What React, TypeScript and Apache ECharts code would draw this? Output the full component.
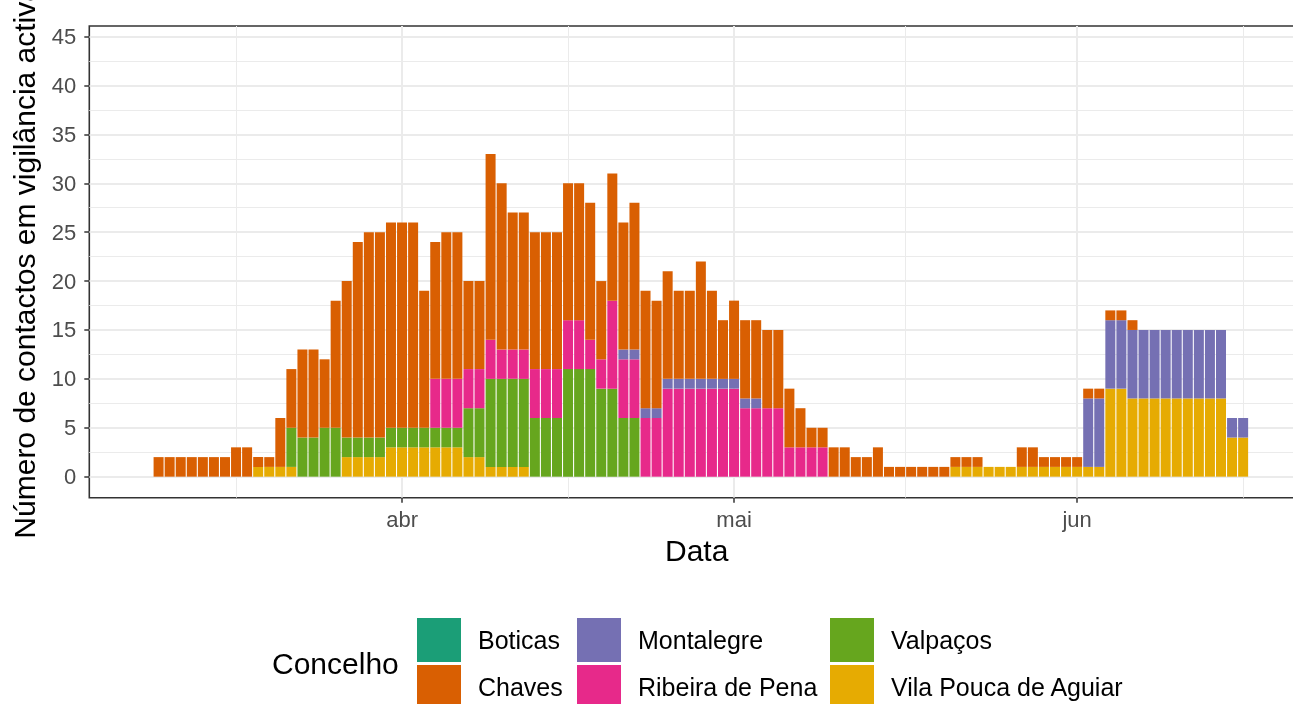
import React, { useEffect, useRef } from "react";
import * as echarts from "echarts";

// Days counted from 2020-03-09 (day 0) to 2020-06-16 (day 99)
const dayCount = 100;
const days = Array.from({ length: dayCount }, (_, i) => i);

const monthTicks = [23, 53, 84];
const monthLabels = ["abr", "mai", "jun"];
const monthMinorTicks = [8, 38, 68.5, 99];

const yMajorTicks = [0, 5, 10, 15, 20, 25, 30, 35, 40, 45];
const yMinorTicks = [2.5, 7.5, 12.5, 17.5, 22.5, 27.5, 32.5, 37.5, 42.5];

const vilaPouca = [
  0, 0, 0, 0, 0, 0, 0, 0, 0, 0,
  1, 1, 1, 1, 0, 0, 0, 0, 2, 2,
  2, 2, 3, 3, 3, 3, 3, 3, 3, 2,
  2, 1, 1, 1, 1, 0, 0, 0, 0, 0,
  0, 0, 0, 0, 0, 0, 0, 0, 0, 0,
  0, 0, 0, 0, 0, 0, 0, 0, 0, 0,
  0, 0, 0, 0, 0, 0, 0, 0, 0, 0,
  0, 0, 0, 1, 1, 1, 1, 1, 1, 1,
  1, 1, 1, 1, 1, 1, 1, 9, 9, 8,
  8, 8, 8, 8, 8, 8, 8, 8, 4, 4,
];
const valpacos = [
  0, 0, 0, 0, 0, 0, 0, 0, 0, 0,
  0, 0, 0, 4, 4, 4, 5, 5, 2, 2,
  2, 2, 2, 2, 2, 2, 2, 2, 2, 5,
  5, 9, 9, 9, 9, 6, 6, 6, 11, 11,
  11, 9, 9, 6, 6, 0, 0, 0, 0, 0,
  0, 0, 0, 0, 0, 0, 0, 0, 0, 0,
  0, 0, 0, 0, 0, 0, 0, 0, 0, 0,
  0, 0, 0, 0, 0, 0, 0, 0, 0, 0,
  0, 0, 0, 0, 0, 0, 0, 0, 0, 0,
  0, 0, 0, 0, 0, 0, 0, 0, 0, 0,
];
const ribeira = [
  0, 0, 0, 0, 0, 0, 0, 0, 0, 0,
  0, 0, 0, 0, 0, 0, 0, 0, 0, 0,
  0, 0, 0, 0, 0, 0, 5, 5, 5, 4,
  4, 4, 3, 3, 3, 5, 5, 5, 5, 5,
  3, 3, 9, 6, 6, 6, 6, 9, 9, 9,
  9, 9, 9, 9, 7, 7, 7, 7, 3, 3,
  3, 3, 0, 0, 0, 0, 0, 0, 0, 0,
  0, 0, 0, 0, 0, 0, 0, 0, 0, 0,
  0, 0, 0, 0, 0, 0, 0, 0, 0, 0,
  0, 0, 0, 0, 0, 0, 0, 0, 0, 0,
];
const montalegre = [
  0, 0, 0, 0, 0, 0, 0, 0, 0, 0,
  0, 0, 0, 0, 0, 0, 0, 0, 0, 0,
  0, 0, 0, 0, 0, 0, 0, 0, 0, 0,
  0, 0, 0, 0, 0, 0, 0, 0, 0, 0,
  0, 0, 0, 1, 1, 1, 1, 1, 1, 1,
  1, 1, 1, 1, 1, 1, 0, 0, 0, 0,
  0, 0, 0, 0, 0, 0, 0, 0, 0, 0,
  0, 0, 0, 0, 0, 0, 0, 0, 0, 0,
  0, 0, 0, 0, 0, 7, 7, 7, 7, 7,
  7, 7, 7, 7, 7, 7, 7, 7, 2, 2,
];
const chaves = [
  0, 2, 2, 2, 2, 2, 2, 2, 3, 3,
  1, 1, 5, 6, 9, 9, 7, 13, 16, 20,
  21, 21, 21, 21, 21, 14, 14, 15, 15, 9,
  9, 19, 17, 14, 14, 14, 14, 14, 14, 14,
  14, 8, 13, 13, 15, 12, 11, 11, 9, 9,
  12, 9, 6, 8, 8, 8, 8, 8, 6, 4,
  2, 2, 3, 3, 2, 2, 3, 1, 1, 1,
  1, 1, 1, 1, 1, 1, 0, 0, 0, 2,
  2, 1, 1, 1, 1, 1, 1, 1, 1, 1,
  0, 0, 0, 0, 0, 0, 0, 0, 0, 0,
];
const boticas = new Array(dayCount).fill(0);

// stacking order: bottom first
const seriesNames = [
  "Vila Pouca de Aguiar",
  "Valpaços",
  "Ribeira de Pena",
  "Montalegre",
  "Chaves",
  "Boticas",
];
const seriesValues = [vilaPouca, valpacos, ribeira, montalegre, chaves, boticas];
const seriesColors = ["#E6AB02", "#66A61E", "#E7298A", "#7570B3", "#D95F02", "#1B9E77"];

const legendColumns = [
  ["Boticas", "Chaves"],
  ["Montalegre", "Ribeira de Pena"],
  ["Valpaços", "Vila Pouca de Aguiar"],
];

const FONT = "'Liberation Sans', Arial, Helvetica, sans-serif";
const CHART_H = 740;

export default function App() {
  const ref = useRef<HTMLDivElement>(null);
  useEffect(() => {
    document.body.style.overflow = "hidden";
    const chart = echarts.init(ref.current!, null, { renderer: "svg" });
    const legendLefts = [417, 577, 830];
    chart.setOption({
      animation: false,
      textStyle: { fontFamily: FONT },
      grid: {
        left: 89.3,
        top: 26,
        right: 16,
        bottom: CHART_H - 497.7,
        containLabel: false,
        outerBoundsMode: "none",
        show: true,
        backgroundColor: "#ffffff",
        borderColor: "#333333",
        borderWidth: 1.6,
      },
      xAxis: [
        {
          type: "value",
          min: -5.26,
          max: 104.5,
          axisLine: { show: false, onZero: false },
          axisTick: {
            show: true,
            customValues: monthTicks,
            length: 5,
            lineStyle: { color: "#333333", width: 1.5 },
          },
          axisLabel: {
            customValues: monthTicks,
            formatter: (v: number) => monthLabels[monthTicks.indexOf(v)] ?? "",
            color: "#4D4D4D",
            fontSize: 22,
            margin: 11,
            fontFamily: FONT,
          },
          splitLine: { show: true, lineStyle: { color: "#EBEBEB", width: 2 } },
          name: "Data",
          nameLocation: "middle",
          nameGap: 37,
          nameTextStyle: { fontSize: 30, color: "#000", fontFamily: FONT },
        },
        {
          type: "value",
          min: -5.26,
          max: 104.5,
          position: "bottom",
          axisLine: { show: false, onZero: false },
          axisTick: { show: false, customValues: monthMinorTicks },
          axisLabel: { show: false, customValues: monthMinorTicks },
          splitLine: { show: true, lineStyle: { color: "#EBEBEB", width: 1 } },
        },
      ],
      yAxis: [
        {
          type: "value",
          min: -2.15,
          max: 46.08,
          axisLine: { show: false, onZero: false },
          axisTick: {
            show: true,
            customValues: yMajorTicks,
            length: 5,
            lineStyle: { color: "#333333", width: 1.5 },
          },
          axisLabel: {
            customValues: yMajorTicks,
            color: "#4D4D4D",
            fontSize: 22,
            margin: 13,
            fontFamily: FONT,
          },
          splitLine: { show: true, lineStyle: { color: "#EBEBEB", width: 2 } },
          name: "Número de contactos em vigilância activa",
          nameLocation: "middle",
          nameRotate: 90,
          nameGap: 50,
          nameTextStyle: { fontSize: 30, color: "#000", fontFamily: FONT },
        },
        {
          type: "value",
          min: -2.15,
          max: 46.08,
          position: "left",
          axisLine: { show: false, onZero: false },
          axisTick: { show: false, customValues: yMinorTicks },
          axisLabel: { show: false, customValues: yMinorTicks },
          splitLine: { show: true, lineStyle: { color: "#EBEBEB", width: 1 } },
        },
      ],
      legend: legendColumns.map((names, i) => ({
        data: names,
        orient: "vertical",
        left: legendLefts[i],
        top: 618,
        padding: 0,
        itemWidth: 44,
        itemHeight: 44,
        itemGap: 3,
        icon: "rect",
        selectedMode: false,
        textStyle: {
          fontSize: 25,
          color: "#000",
          fontFamily: FONT,
          padding: [0, 0, 0, 12],
        },
      })),
      graphic: [
        {
          type: "text",
          x: 272,
          y: 663,
          style: {
            text: "Concelho",
            fontSize: 30,
            fontFamily: FONT,
            fill: "#000",
            align: "left",
            verticalAlign: "middle",
          },
        },
      ],
      series: seriesNames.map((name, si) => ({
        name,
        type: "bar",
        stack: "total",
        xAxisIndex: 0,
        yAxisIndex: 0,
        barWidth: 10,
        itemStyle: { color: seriesColors[si] },
        emphasis: { disabled: true },
        // value first so that the stacked dimension is the y value
        encode: { x: 1, y: 0 },
        data: days.map((d, i) => [seriesValues[si][i], d]),
      })),
    });
    return () => chart.dispose();
  }, []);
  return (
    <div
      ref={ref}
      style={{ position: "fixed", left: 0, top: 0, width: 1320, height: CHART_H }}
    />
  );
}
